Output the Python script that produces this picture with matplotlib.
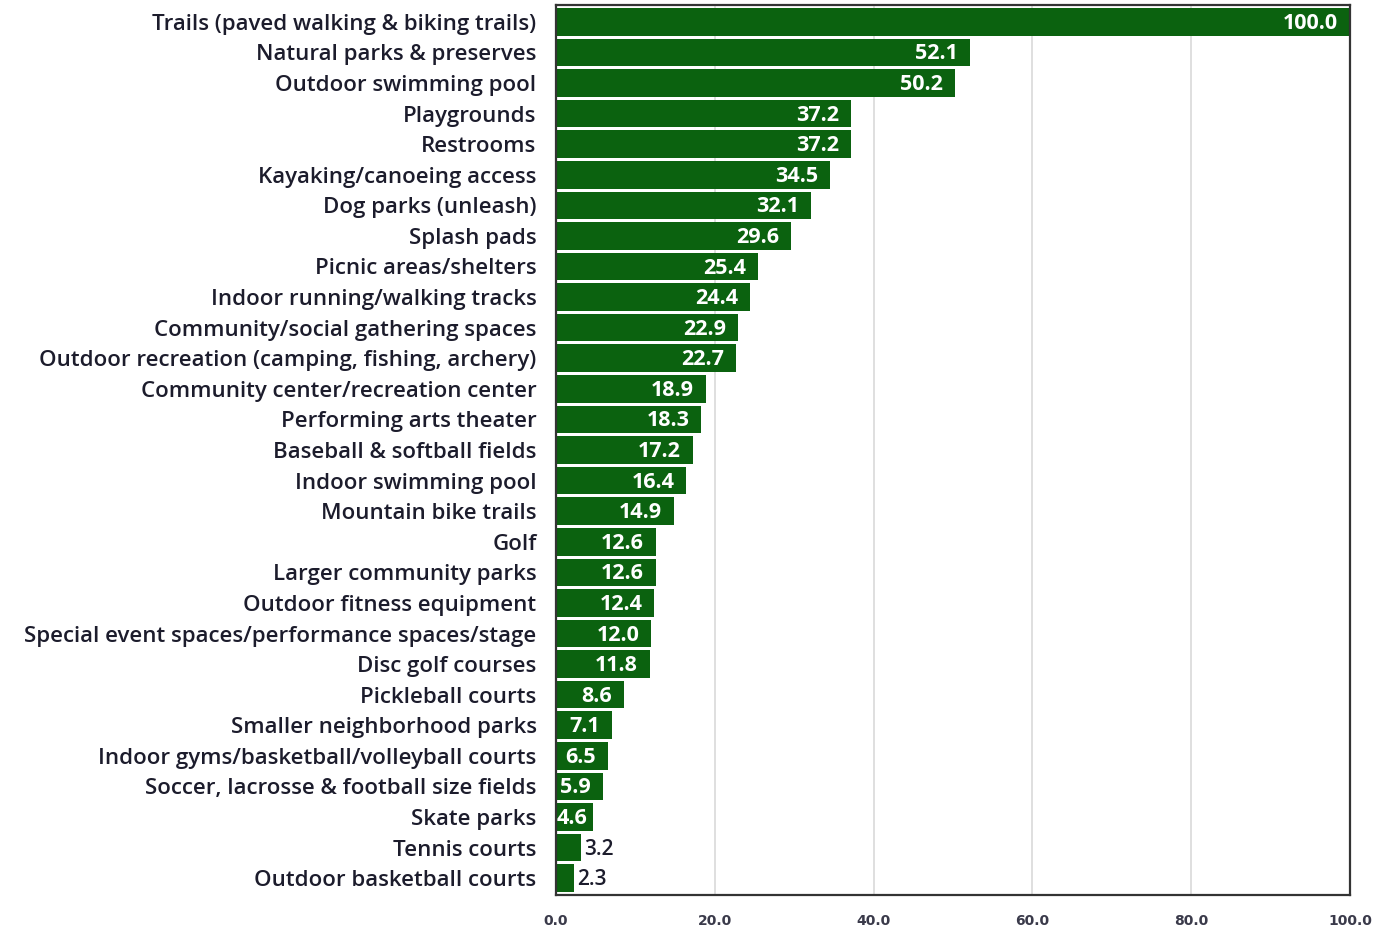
import matplotlib.pyplot as plt
import numpy as np

# 类别与数值
categories = [
    'Trails (paved walking & biking trails)',
    'Natural parks & preserves',
    'Outdoor swimming pool',
    'Playgrounds',
    'Restrooms',
    'Kayaking/canoeing access',
    'Dog parks (unleash)',
    'Splash pads',
    'Picnic areas/shelters',
    'Indoor running/walking tracks',
    'Community/social gathering spaces',
    'Outdoor recreation (camping, fishing, archery)',
    'Community center/recreation center',
    'Performing arts theater',
    'Baseball & softball fields',
    'Indoor swimming pool',
    'Mountain bike trails',
    'Golf',
    'Larger community parks',
    'Outdoor fitness equipment',
    'Special event spaces/performance spaces/stage',
    'Disc golf courses',
    'Pickleball courts',
    'Smaller neighborhood parks',
    'Indoor gyms/basketball/volleyball courts',
    'Soccer, lacrosse & football size fields',
    'Skate parks',
    'Tennis courts',
    'Outdoor basketball courts',
]
values = [100.0, 52.1, 50.2, 37.2, 37.2, 34.5, 32.1, 29.6, 25.4, 24.4, 22.9,
          22.7, 18.9, 18.3, 17.2, 16.4, 14.9, 12.6, 12.6, 12.4, 12.0, 11.8,
          8.6, 7.1, 6.5, 5.9, 4.6, 3.2, 2.3]
x_ticks = [0, 20, 40, 60, 80, 100]

green = '#0b620f'
text_dark = '#1c1c2c'
font = 'Open Sans'

fig = plt.figure(figsize=(13.97, 9.3), dpi=100)
ax = fig.add_axes([556 / 1397, 35 / 930, 794 / 1397, 890 / 930])

y = np.arange(len(categories))
ax.barh(y, values, height=0.9, color=green, zorder=2)

# 数值标签：长条放在条内右端，短条放在条外
for yi, v in zip(y, values):
    if v >= 5:
        ax.text(v - 1.5, yi + 0.05, f'{v:.1f}', ha='right', va='center',
                color='white', fontsize=15.5, fontweight='bold',
                family=font, zorder=3)
    elif v >= 4:
        ax.text(0.1, yi + 0.05, f'{v:.1f}', ha='left', va='center',
                color='white', fontsize=15.5, fontweight='bold',
                family=font, zorder=3)
    else:
        ax.text(v + 0.3, yi + 0.05, f'{v:.1f}', ha='left', va='center',
                color=text_dark, fontsize=15, fontweight='semibold',
                family=font, zorder=3)

ax.set_xlim(0, 100)
ax.set_ylim(len(categories) - 0.45, -0.55)
ax.set_yticks(y)
ax.set_yticklabels(categories, fontsize=16, family=font,
                   fontweight='semibold', color=text_dark)
ax.set_xticks(x_ticks)
ax.set_xticklabels([f'{t:.1f}' for t in x_ticks], fontsize=10,
                   fontweight='bold', family='DejaVu Sans', color='#3a3a4a')
ax.tick_params(axis='both', length=0)
ax.tick_params(axis='x', pad=14)
ax.tick_params(axis='y', pad=14)

ax.grid(axis='x', color='#d9d9d9', linewidth=1.2, zorder=0)
ax.set_axisbelow(True)
for s in ax.spines.values():
    s.set_color('#333333')
    s.set_linewidth(1.6)

fig.savefig('out.png', dpi=100)
